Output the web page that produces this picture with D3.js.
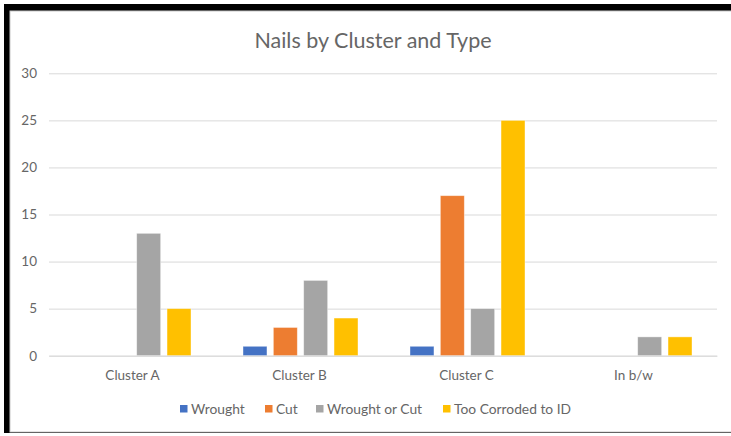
<!DOCTYPE html>
<html>
<head>
<meta charset="utf-8">
<script src="https://cdn.jsdelivr.net/npm/d3@7"></script>
<style>
  body { margin: 0; background: #fff; }
  text { font-family: Lato, "Open Sans", sans-serif; fill: #666; }
</style>
</head>
<body>
<svg id="chart" width="731" height="436"></svg>
<script>
// data
var clusters = ["Cluster A", "Cluster B", "Cluster C", "In b/w"];
var series = ["Wrought", "Cut", "Wrought or Cut", "Too Corroded to ID"];
var wrought = [0, 1, 1, 0];
var cut = [0, 3, 17, 0];
var wroughtOrCut = [13, 8, 5, 2];
var tooCorroded = [5, 4, 25, 2];
var yTicks = [0, 5, 10, 15, 20, 25, 30];
var colors = ["#4472C4", "#ED7D31", "#A5A5A5", "#FFC000"];

var values = [wrought, cut, wroughtOrCut, tooCorroded];

var svg = d3.select("#chart"),
  width = +svg.attr("width"),
  height = +svg.attr("height");

// frame (black border like the screenshot)
svg.append("rect").attr("x", 4).attr("y", 4).attr("width", 800).attr("height", 429).attr("fill", "#000");
svg.append("rect").attr("x", 10).attr("y", 11).attr("width", 800).attr("height", 421)
  .attr("fill", "#fff").attr("stroke", "#c8c8c8").attr("stroke-width", 1);

var plot = {left: 49, right: 717, top: 73.3, bottom: 355.7};

var x0 = d3.scaleBand()
  .domain(clusters)
  .range([plot.left, plot.right]);

var groupPad = 26;
var x1 = d3.scaleBand()
  .domain(series)
  .range([groupPad, x0.bandwidth() - groupPad])
  .paddingInner(0.21);

var y = d3.scaleLinear()
  .domain([0, 30])
  .range([plot.bottom, plot.top]);

// title
svg.append("text")
  .attr("x", 373)
  .attr("y", 48)
  .attr("text-anchor", "middle")
  .style("font-size", "21.5px")
  .text("Nails by Cluster and Type");

// grid lines + y labels
var yAxis = d3.axisLeft(y)
  .tickValues(yTicks)
  .tickSize(-(plot.right - plot.left))
  .tickPadding(12);

var gy = svg.append("g")
  .attr("transform", "translate(" + plot.left + ",0)")
  .call(yAxis);
gy.select(".domain").remove();
gy.selectAll(".tick line").attr("stroke", "#d9d9d9");
gy.selectAll(".tick text")
  .style("font-size", "13.5px")
  .style("font-family", "Lato, sans-serif")
  .attr("fill", "#666");

// bars
var groups = svg.append("g")
  .selectAll("g")
  .data(clusters)
  .enter()
  .append("g")
  .attr("transform", d => "translate(" + x0(d) + ",0)");

groups.selectAll("rect")
  .data((c, i) => series.map((s, j) => ({s: s, v: values[j][i], j: j})))
  .enter()
  .filter(d => d.v > 0)
  .append("rect")
  .attr("x", d => x1(d.s) + 1)
  .attr("width", x1.bandwidth())
  .attr("y", d => y(d.v))
  .attr("height", d => y(0) - y(d.v))
  .attr("fill", d => colors[d.j])
  .attr("stroke", "#fff")
  .attr("stroke-opacity", 0.5)
  .attr("stroke-width", 0.8);

// category axis
var gx = svg.append("g")
  .attr("transform", "translate(0," + plot.bottom + ")")
  .call(d3.axisBottom(x0).tickSize(0).tickPadding(15));
gx.select(".domain").attr("stroke", "#d9d9d9");
gx.selectAll(".tick text")
  .style("font-size", "13.5px")
  .style("font-family", "Lato, sans-serif")
  .attr("fill", "#666");

// legend
var legendX = [180, 265, 316, 443];
var legend = svg.append("g")
  .selectAll("g")
  .data(series)
  .enter()
  .append("g")
  .attr("transform", (d, i) => "translate(" + legendX[i] + ",405)");
legend.append("rect")
  .attr("width", 7.5)
  .attr("height", 7.5)
  .attr("fill", (d, i) => colors[i]);
legend.append("text")
  .attr("x", 11)
  .attr("y", 8.5)
  .style("font-size", "13.8px")
  .text(d => d);
</script>
</body>
</html>
